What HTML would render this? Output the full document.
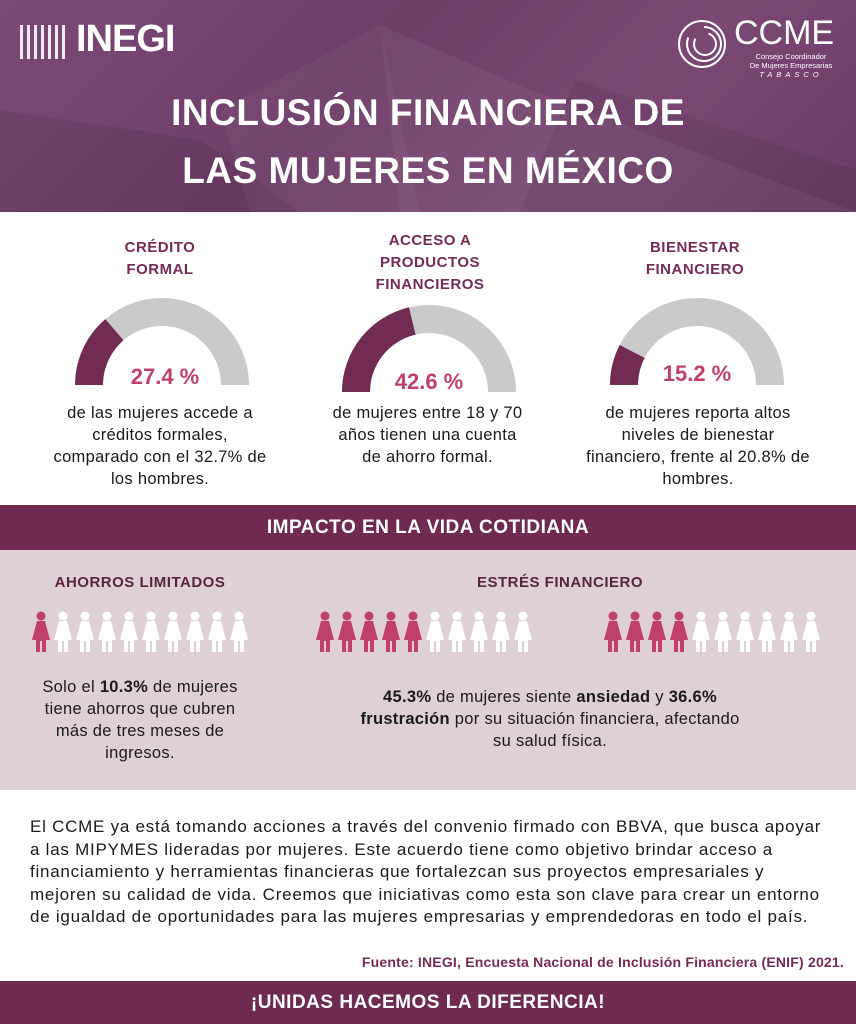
<!DOCTYPE html>
<html><head><meta charset="utf-8"><style>
*{margin:0;padding:0;box-sizing:border-box}
body{width:856px;height:1024px;overflow:hidden;font-family:"Liberation Sans",sans-serif;background:#fff;position:relative}
.abs{position:absolute}
.hdr{left:0;top:0;width:856px;height:212px;background:linear-gradient(135deg,#7d4a78 0%,#6e3d68 40%,#7a4873 70%,#6a3a66 100%);overflow:hidden}
.title{left:0;width:856px;text-align:center;color:#fff;font-weight:bold;font-size:37px;letter-spacing:0.5px}
.h3{text-align:center;color:#772a55;font-weight:bold;font-size:15px;line-height:22px;letter-spacing:.5px}
.txt{text-align:center;color:#1a1a1a;font-size:16.5px;line-height:22px;letter-spacing:.3px;white-space:nowrap}
.pct{color:#c0406a;font-weight:bold;font-size:22px;text-align:center}
</style></head><body>
<div class="abs hdr">
<svg width="856" height="212" style="position:absolute;left:0;top:0">
<polygon points="380,25 530,90 856,212 400,212" fill="#ffffff" opacity="0.05"/>
<polygon points="575,80 856,170 856,212 520,212" fill="#000" opacity="0.06"/>
<polygon points="0,110 200,140 300,212 0,212" fill="#000" opacity="0.07"/>
<polygon points="220,110 380,25 420,212 250,212" fill="#fff" opacity="0.04"/>
</svg>
<div class="abs" style="left:20px;top:25px;width:45px;height:34px;background:repeating-linear-gradient(90deg,#fff 0 3px,transparent 3px 7px);opacity:.9"></div>
<div class="abs" style="left:76px;top:18px;color:#fff;font-weight:bold;font-size:38px;letter-spacing:-1px">INEGI</div>
<svg class="abs" style="left:676px;top:18px" width="52" height="52"><circle cx="26" cy="26" r="23" fill="none" stroke="#fff" stroke-width="2"/><circle cx="28" cy="26" r="17" fill="none" stroke="#fff" stroke-width="2" stroke-dasharray="60 20"/><circle cx="29" cy="26" r="11" fill="none" stroke="#fff" stroke-width="2" stroke-dasharray="40 15"/></svg>
<div class="abs" style="left:734px;top:14px;color:#fff;font-size:34px;">CCME</div>
<div class="abs" style="left:736px;top:52px;color:#fff;font-size:7.5px;line-height:9px;text-align:center;width:110px">Consejo Coordinador<br>De Mujeres Empresarias<br><span style="letter-spacing:4px;font-style:italic">TABASCO</span></div>
<div class="abs title" style="top:92px">INCLUSIÓN FINANCIERA DE</div>
<div class="abs title" style="top:150px">LAS MUJERES EN MÉXICO</div>
</div>

<div class="abs h3" style="left:60px;top:237px;width:200px">CRÉDITO<br>FORMAL</div>
<div class="abs h3" style="left:330px;top:230px;width:200px">ACCESO A<br>PRODUCTOS<br>FINANCIEROS</div>
<div class="abs h3" style="left:595px;top:237px;width:200px">BIENESTAR<br>FINANCIERO</div>

<svg class="abs" style="left:0;top:0" width="856" height="420">
<path d="M75 385 A87 87 0 0 1 249 385 L221 385 A59 59 0 0 0 103 385 Z" fill="#cacaca"/>
<path d="M75 385 A87 87 0 0 1 105.3 319.1 L123.5 340.3 A59 59 0 0 0 103 385 Z" fill="#722b53"/>
<path d="M342 392 A87 87 0 0 1 516 392 L488 392 A59 59 0 0 0 370 392 Z" fill="#cacaca"/>
<path d="M342 392 A87 87 0 0 1 409 307.3 L415.5 334.6 A59 59 0 0 0 370 392 Z" fill="#722b53"/>
<path d="M610 385 A87 87 0 0 1 784 385 L756 385 A59 59 0 0 0 638 385 Z" fill="#cacaca"/>
<path d="M610 385 A87 87 0 0 1 619.7 345 L644.6 357.9 A59 59 0 0 0 638 385 Z" fill="#722b53"/>
</svg>
<div class="abs pct" style="left:100px;top:364px;width:130px">27.4 %</div>
<div class="abs pct" style="left:364px;top:369px;width:130px">42.6 %</div>
<div class="abs pct" style="left:632px;top:361px;width:130px">15.2 %</div>

<div class="abs txt" style="left:35px;top:402px;width:250px">de las mujeres accede a<br>créditos formales,<br>comparado con el 32.7% de<br>los hombres.</div>
<div class="abs txt" style="left:310px;top:402px;width:235px">de mujeres entre 18 y 70<br>años tienen una cuenta<br>de ahorro formal.</div>
<div class="abs txt" style="left:568px;top:402px;width:260px">de mujeres reporta altos<br>niveles de bienestar<br>financiero, frente al 20.8% de<br>hombres.</div>

<div class="abs" style="left:0;top:505px;width:856px;height:45px;background:#6e2a50;color:#fff;font-weight:bold;font-size:19px;text-align:center;line-height:45px;letter-spacing:.5px">IMPACTO EN LA VIDA COTIDIANA</div>
<div class="abs" style="left:0;top:550px;width:856px;height:240px;background:#dfd0d6"></div>
<div class="abs h3" style="left:40px;top:572px;width:200px;color:#5a2340">AHORROS LIMITADOS</div>
<div class="abs h3" style="left:440px;top:572px;width:240px;color:#5a2340">ESTRÉS FINANCIERO</div>

<svg class="abs" style="left:0;top:610px" width="856" height="50">
<defs><g id="p"><circle cx="10" cy="6" r="4.5"/><path d="M6 11 H14 L19 30 H15 V42 H11 V31 H9 V42 H5 V30 H1 Z"/></g></defs>
<g fill="#c0406a"><use href="#p" x="31"/></g>
<g fill="#fff"><use href="#p" x="53"/><use href="#p" x="75"/><use href="#p" x="97"/><use href="#p" x="119"/><use href="#p" x="141"/><use href="#p" x="163"/><use href="#p" x="185"/><use href="#p" x="207"/><use href="#p" x="229"/></g>
<g fill="#c0406a"><use href="#p" x="315"/><use href="#p" x="337"/><use href="#p" x="359"/><use href="#p" x="381"/><use href="#p" x="403"/></g>
<g fill="#fff"><use href="#p" x="425"/><use href="#p" x="447"/><use href="#p" x="469"/><use href="#p" x="491"/><use href="#p" x="513"/></g>
<g fill="#c0406a"><use href="#p" x="603"/><use href="#p" x="625"/><use href="#p" x="647"/><use href="#p" x="669"/></g>
<g fill="#fff"><use href="#p" x="691"/><use href="#p" x="713"/><use href="#p" x="735"/><use href="#p" x="757"/><use href="#p" x="779"/><use href="#p" x="801"/></g>
</svg>

<div class="abs txt" style="left:25px;top:676px;width:230px">Solo el <b>10.3%</b> de mujeres<br>tiene ahorros que cubren<br>más de tres meses de<br>ingresos.</div>
<div class="abs txt" style="left:310px;top:686px;width:480px"><b>45.3%</b> de mujeres siente <b>ansiedad</b> y <b>36.6%</b><br><b>frustración</b> por su situación financiera, afectando<br>su salud física.</div>

<div class="abs" style="left:30px;top:816px;width:820px;font-size:17px;line-height:22.5px;color:#1a1a1a;letter-spacing:.75px;white-space:nowrap">El CCME ya está tomando acciones a través del convenio firmado con BBVA, que busca apoyar<br>a las MIPYMES lideradas por mujeres. Este acuerdo tiene como objetivo brindar acceso a<br>financiamiento y herramientas financieras que fortalezcan sus proyectos empresariales y<br>mejoren su calidad de vida. Creemos que iniciativas como esta son clave para crear un entorno<br>de igualdad de oportunidades para las mujeres empresarias y emprendedoras en todo el país.</div>
<div class="abs" style="right:12px;top:954px;font-size:14px;font-weight:bold;color:#772a55;letter-spacing:.2px">Fuente: INEGI, Encuesta Nacional de Inclusión Financiera (ENIF) 2021.</div>
<div class="abs" style="left:0;top:981px;width:856px;height:43px;background:#6e2a50;color:#fff;font-weight:bold;font-size:19px;text-align:center;line-height:43px;letter-spacing:.5px">¡UNIDAS HACEMOS LA DIFERENCIA!</div>
</body></html>
